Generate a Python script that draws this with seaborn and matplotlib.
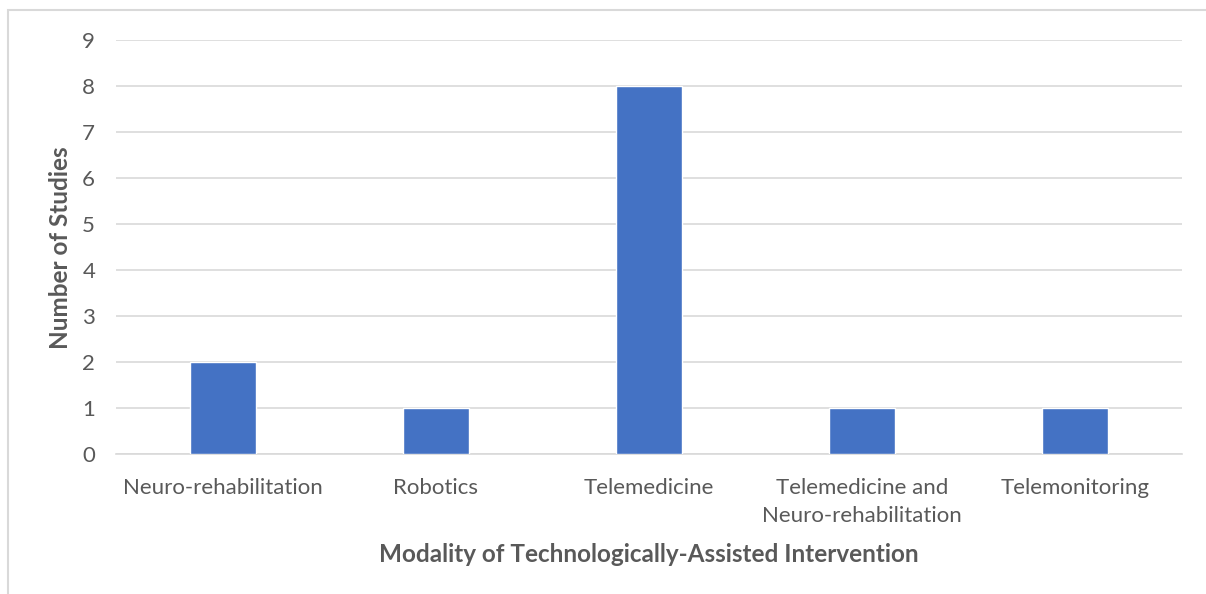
import matplotlib
matplotlib.use("Agg")
import matplotlib.pyplot as plt
import seaborn as sns
import pandas as pd
from matplotlib.patches import Rectangle

categories = ["Neuro-rehabilitation", "Robotics", "Telemedicine",
              "Telemedicine and\nNeuro-rehabilitation", "Telemonitoring"]
studies = [2, 1, 8, 1, 1]
y_ticks = list(range(0, 10))

df = pd.DataFrame({"Modality": categories, "Studies": studies})

sns.set_theme(style="white")
plt.rcParams["font.family"] = ["Lato", "DejaVu Sans"]

W, H = 1206, 594
fig = plt.figure(figsize=(W / 100, H / 100), dpi=100)
x0, x1, y_top, y_base = 116, 1182, 40, 454
ax = fig.add_axes([x0 / W, 1 - y_base / H, (x1 - x0) / W, (y_base - y_top) / H])

sns.barplot(data=df, x="Modality", y="Studies", color="#4472C4",
            width=0.31, saturation=1, ax=ax, zorder=3)

ax.set_ylim(0, 9)
ax.set_yticks(y_ticks)
ax.grid(axis="y", color="#d9d9d9", linewidth=1.2, zorder=0)
for s in ["top", "right", "left"]:
    ax.spines[s].set_visible(False)
ax.spines["bottom"].set_color("#d9d9d9")
ax.spines["bottom"].set_linewidth(1.2)
ax.tick_params(axis="both", length=0, labelsize=16, colors="#595959")
ax.tick_params(axis="y", pad=15)
ax.tick_params(axis="x", pad=17.5)
for lbl in ax.get_xticklabels():
    lbl.set_linespacing(1.5)

ax.set_xlabel("Modality of Technologically-Assisted Intervention",
              fontsize=17.5, fontweight="bold", color="#595959")
ax.set_ylabel("Number of Studies", fontsize=17.5, fontweight="bold",
              color="#595959")
ax.xaxis.label.set_va("center")
ax.yaxis.label.set_va("center")
ax.xaxis.set_label_coords(0.5, (y_base - 554) / (y_base - y_top))
ax.yaxis.set_label_coords((60 - x0) / (x1 - x0), (y_base - 248) / (y_base - y_top))

# chart-area frame
fig.patches.append(Rectangle((8 / W, -0.1), 1.2, 1 - 10 / H + 0.1,
                             transform=fig.transFigure, fill=False,
                             edgecolor="#d9d9d9", linewidth=1.5))

fig.savefig("out.png", dpi=100, facecolor="white")
